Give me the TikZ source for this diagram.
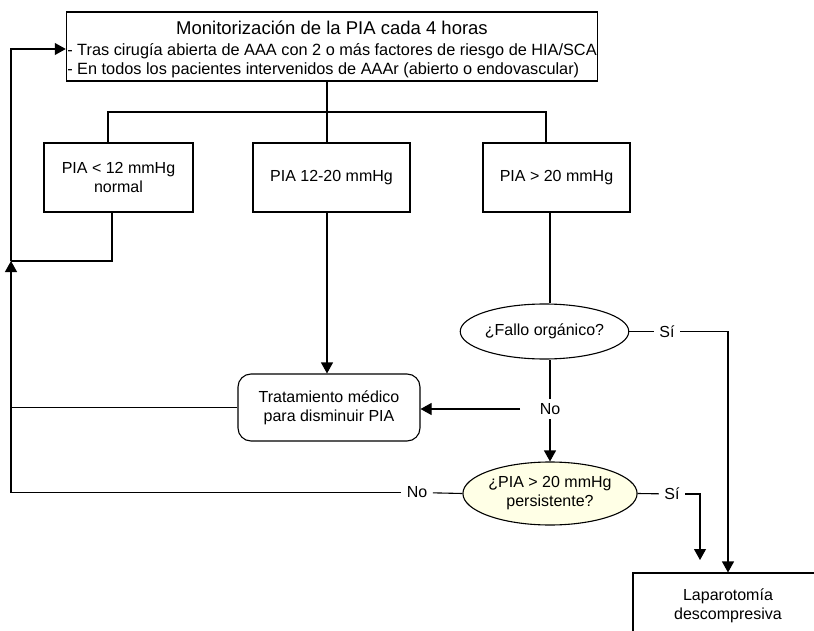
\documentclass[tikz,border=0pt]{standalone}
\usepackage{fontspec}
\setmainfont{Liberation Sans}
\usetikzlibrary{shapes.geometric, arrows.meta, positioning}
\definecolor{cream}{RGB}{255,255,230}

\begin{document}
\begin{tikzpicture}[
                x=1pt, y=-1pt,
                >={Triangle[width=12pt,length=11pt]},
                line width=1.1pt,
                box/.style={
                    draw,
                    minimum height=69pt,
                    align=center
                },
                question/.style={
                    draw,
                    ellipse,
                    inner sep=0pt,
                    align=center
                },
                arr/.style={
                    ->
                },
                lbl/.style={
                    inner sep=5pt
                },
                every node/.style={font=\fontsize{16}{19}\selectfont}
            ]

                \clip (0,0) rectangle (814,631);

                % monitorizacion
                \node[box, minimum width=530pt, inner sep=1pt] (mon) at (332,46.5)
                    {\rule{0pt}{21pt}{\fontsize{18.5}{19}\selectfont Monitorización de la PIA cada 4 horas}\\[2pt]
                     \fontsize{16.3}{19}\selectfont
                     \begin{tabular}[t]{@{}l@{}}
                     - Tras cirugía abierta de AAA con 2 o más factores de riesgo de HIA/SCA\\
                     - En todos los pacientes intervenidos de AAAr (abierto o endovascular)
                     \end{tabular}};

                % los tres rangos de PIA
                \node[box, minimum width=149pt] (low) at (118.5,177.5) {PIA < 12 mmHg\\normal};
                \node[box, minimum width=157pt] (mid) at (331.5,177.5) {PIA 12-20 mmHg};
                \node[box, minimum width=147pt] (high) at (556.5,177.5) {PIA > 20 mmHg};

                \node[box, rounded corners=13pt, minimum width=182pt, minimum height=67pt] (treat) at (329,407.5)
                    {Tratamiento médico\\para disminuir PIA};

                \node[question, minimum width=165pt, minimum height=55pt] (fallo) at (544.5,331.5) {¿Fallo orgánico?};
                \node[question, fill=cream, minimum width=170pt, minimum height=63pt] (persist) at (550,493.5)
                    {¿PIA > 20 mmHg\\persistente?};

                \node[box, minimum width=190pt, minimum height=66pt] (lap) at (728,606) {Laparotomía\\descompresiva};

                % etiquetas
                \node[lbl, inner xsep=19pt, inner ysep=4pt] (no1) at (550,409) {No};
                \node[lbl] (si1) at (667,331.5) {Sí};
                \node[lbl] (si2) at (672,494) {Sí};
                \node[lbl] (no2) at (417,492.5) {No};

                \coordinate (split) at (327,112);
                \coordinate (hL) at (108,112);
                \coordinate (hR) at (546,112);
                \coordinate (ret) at (11,261);
                \coordinate (tl) at (11,49);
                \coordinate (lowout) at (112,261);
                \coordinate (sitip) at (700,560);

                \draw (mon.south -| split) -- (split);
                \draw (low.north -| hL) -- (hL) -- (hR) -- (high.north -| hR);
                \draw (split) -- (mid.north -| split);

                \draw (low.south -| lowout) -- (lowout) -- (ret);
                \draw[arr] (ret) -- (tl) -- (tl -| mon.west);

                \draw[arr] (mid.south -| split) -- (treat.north -| split);
                \draw (treat.west) -- (treat.west -| ret);

                \draw (high.south -| no1) -- (no1 |- fallo.north);
                \draw (fallo.south -| no1) -- (no1);
                \draw[arr] (no1) -- (treat.east |- no1);
                \draw[arr] (no1) -- (persist.north);

                \draw (fallo.east) -- (si1);
                \draw[arr] (si1) -| (lap.north);

                \draw (persist.east) -- (si2);
                \draw[arr] (si2) -| (sitip);

                \draw (persist.west) -- (no2);
                \draw[arr] (no2) -| (ret);

            \end{tikzpicture}
\end{document}
